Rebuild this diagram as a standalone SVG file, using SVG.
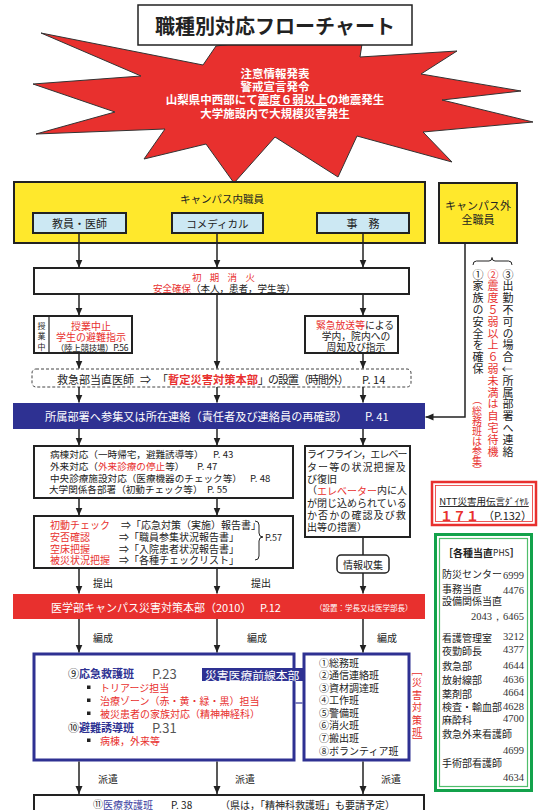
<svg xmlns="http://www.w3.org/2000/svg" width="539" height="810" viewBox="0 0 539 810">
<defs>
<marker id="ah" viewBox="0 0 8 8" refX="8" refY="4" markerWidth="8" markerHeight="8" markerUnits="userSpaceOnUse" orient="auto"><path d="M0,0.5 L8,4 L0,7.5 z" fill="#222"/></marker>
</defs>
<style>
text { font-family: "Noto Sans CJK JP", "Noto Sans", sans-serif; dominant-baseline: central; fill: #222; }
.c { text-anchor: middle; }
.r { fill: #E8302E; }
.w { fill: #fff; }
.b { font-weight: bold; }
.n { fill: #2E3192; }
.num { font-family: "Liberation Serif", "DejaVu Serif", serif; text-anchor: end; font-size: 10.5px; fill: #333; }
.ln { stroke: #222; stroke-width: 1.5; fill: none; }
.arr { marker-end: url(#ah); }
.box { fill: #fff; stroke: #222; stroke-width: 2; }
.yel { fill: #FFE82C; stroke: #222; stroke-width: 2; }
.sub { fill: #CCE8F3; stroke: #222; stroke-width: 2; }
.vt { writing-mode: vertical-rl; font-size: 11px; letter-spacing: 0.8px; }
.vc { text-anchor: middle; font-size: 10px; fill: #E8302E; }
.nb { fill: #fff; stroke: #2E3192; stroke-width: 3; }
.lst { font-size: 10px; }
.ph { font-size: 10px; }
</style>
<rect width="539" height="810" fill="#fff"/>

<g id="alert">
<polygon points="41,33 203,65 216,46 280,38 362,44 360,57 457,51 421,74 521,91 442,100 533,122 423,132 452,162 357,136 338,177 275,137 234,183 206,144 144,159 165,129 36,134 115,112 33,84 141,76" fill="#E8302E" stroke="#333" stroke-width="1"/>
<text x="275" y="73" class="c b w" font-size="11.5">注意情報発表</text>
<text x="275" y="86" class="c b w" font-size="11.5">警戒宣言発令</text>
<text x="275" y="99" class="c b w" font-size="11.5">山梨県中西部にて震度６弱以上の地震発生</text>
<line x1="258" y1="105.5" x2="327" y2="105.5" stroke="#fff" stroke-width="1"/>
<text x="275" y="113" class="c b w" font-size="11.5">大学施設内で大規模災害発生</text>
</g>

<g id="title">
<rect x="138" y="5" width="274" height="40" fill="#fff" stroke="#222" stroke-width="1.5"/>
<text x="275" y="25" class="c b" font-size="20">職種別対応フローチャート</text>
</g>

<g id="campus-in">
<rect x="14" y="182" width="411" height="61" class="yel"/>
<text x="222" y="198" class="c" font-size="10.5">キャンパス内職員</text>
</g>
<g id="faculty">
<rect x="33" y="213" width="93" height="20" class="sub"/>
<text x="79.5" y="223" class="c" font-size="11">教員・医師</text>
</g>
<g id="comedical">
<rect x="172" y="213" width="91" height="20" class="sub"/>
<text x="217.5" y="223" class="c" font-size="10.5">コメディカル</text>
</g>
<g id="office">
<rect x="317" y="213" width="92" height="20" class="sub"/>
<text x="363" y="223" class="c" font-size="11">事　務</text>
</g>

<g id="campus-out">
<rect x="439" y="183" width="78" height="60" class="yel"/>
<text x="478" y="205" class="c" font-size="11">キャンパス外</text>
<text x="478" y="219" class="c" font-size="11">全職員</text>
</g>

<g id="out-notes">
<path d="M473,265 Q473,261 476.5,261 L489,261 Q492,261 492,257.5 Q492,261 495,261 L508.5,261 Q512,261 512,265" fill="none" stroke="#222" stroke-width="1"/>
<text x="478" y="269" class="vt">①家族の安全を確保</text>
<text class="vc" transform="translate(477,400) rotate(90)">（</text>
<text class="vc" x="477" y="410.5">総</text>
<text class="vc" x="477" y="420.5">務</text>
<text class="vc" x="477" y="430.5">班</text>
<text class="vc" x="477" y="440.5">は</text>
<text class="vc" x="477" y="450.5">参</text>
<text class="vc" x="477" y="460.5">集</text>
<text class="vc" transform="translate(477,470) rotate(90)">）</text>
<text x="493" y="269" class="vt r">②震度５弱以上６弱未満は自宅待機</text>
<text x="508" y="269" class="vt">③出勤不可の場合↓所属部署へ連絡</text>
</g>

<g id="initial">
<rect x="34" y="268" width="375" height="26" class="box"/>
<text x="192" y="276.5" class="r" font-size="9.5" letter-spacing="-0.6">初　期　消　火</text>
<text x="153" y="287.5" font-size="9.5"><tspan class="r">安全確保</tspan>（本人，患者，学生等）</text>
</g>

<g id="class-stop">
<rect x="34" y="316" width="98" height="37" class="box"/>
<line x1="49" y1="316" x2="49" y2="353" stroke="#222" stroke-width="1.2"/>
<text x="41.5" y="325" class="c" font-size="8">授</text>
<text x="41.5" y="335.5" class="c" font-size="8">業</text>
<text x="41.5" y="346" class="c" font-size="8">中</text>
<text x="91" y="325" class="c r" font-size="10">授業中止</text>
<text x="91" y="336" class="c r" font-size="10">学生の避難指示</text>
<text x="92" y="346.5" class="c" font-size="8.5" letter-spacing="-0.3">（陸上競技場）P.56</text>
</g>

<g id="broadcast">
<rect x="305" y="316" width="93" height="37" class="box"/>
<text x="355" y="325" class="c" font-size="9.8"><tspan class="r">緊急放送等</tspan>による</text>
<text x="356" y="336" class="c" font-size="9.8">学内，院内への</text>
<text x="356" y="347" class="c" font-size="9.8">周知及び指示</text>
</g>

<g id="provisional">
<rect x="32" y="369" width="379" height="18" rx="4" fill="#fff" stroke="#444" stroke-width="1" stroke-dasharray="3,2"/>
<text y="378.5" font-size="11"><tspan x="57">救急部当直医師</tspan><tspan x="140">⇒</tspan><tspan x="157">「</tspan><tspan class="r b" font-size="11.25">暫定災害対策本部</tspan><tspan letter-spacing="-1">」の設置（時間外）</tspan><tspan x="362">P. 14</tspan></text>
</g>

<g id="report-bar">
<rect x="13" y="403" width="412" height="26" fill="#2E3192"/>
<text x="45" y="416" class="w" font-size="11.2">所属部署へ参集又は所在連絡（責任者及び連絡員の再確認）</text>
<text x="365" y="416" class="w" font-size="11.2">P. 41</text>
</g>

<g id="ward">
<rect x="34" y="446" width="259" height="52" class="box"/>
<text x="50" y="453.5" font-size="9.6">病棟対応（一時帰宅，避難誘導等）<tspan x="213">P. 43</tspan></text>
<text x="50" y="466" font-size="9.6">外来対応（<tspan class="r">外来診療の停止</tspan>等）<tspan x="197">P. 47</tspan></text>
<text x="50" y="477.5" font-size="9.6">中央診療施設対応（医療機器のチェック等）<tspan x="250">P. 48</tspan></text>
<text x="49" y="489" font-size="9.6">大学関係各部署（初動チェック等）<tspan x="207">P. 55</tspan></text>
</g>

<g id="lifeline">
<rect x="305" y="446" width="105" height="91" class="box"/>
<text x="307" y="453.5" font-size="10" letter-spacing="-0.9">ライフライン，エレベー</text>
<text x="307" y="466" font-size="10" letter-spacing="1.1">ター等の状況把握及</text>
<text x="307" y="478" font-size="10">び復旧</text>
<text x="307" y="489.5" font-size="10">（<tspan class="r">エレベーター</tspan>内に人</text>
<text x="307" y="502" font-size="10">が閉じ込められている</text>
<text x="307" y="514" font-size="10" letter-spacing="1.1">か否かの確認及び救</text>
<text x="307" y="526.5" font-size="10">出等の措置）</text>
</g>

<g id="initial-check">
<rect x="34" y="516" width="259" height="52" class="box"/>
<text x="50" y="524.5" font-size="10" class="r">初動チェック</text>
<text x="121" y="524.5" font-size="10">⇒「応急対策（実施）報告書」</text>
<text x="50" y="536.5" font-size="10" class="r">安否確認</text>
<text x="119" y="536.5" font-size="10">⇒「職員参集状況報告書」</text>
<text x="50" y="548" font-size="10" class="r">空床把握</text>
<text x="119" y="548" font-size="10">⇒「入院患者状況報告書」</text>
<text x="50" y="559.5" font-size="10" class="r">被災状況把握</text>
<text x="119" y="559.5" font-size="10">⇒「各種チェックリスト」</text>
<path d="M255,521 Q259,521 259,525 L259,533 Q259,537 263,537 Q259,537 259,541 L259,556 Q259,560 255,560" fill="none" stroke="#222" stroke-width="1"/>
<text x="265" y="537" font-size="9">P.57</text>
</g>

<g id="info">
<rect x="337" y="555" width="52" height="18" rx="4" fill="#fff" stroke="#222" stroke-width="1.5"/>
<text x="363" y="564" class="c" font-size="10">情報収集</text>
</g>

<g id="hq">
<rect x="13" y="594" width="412" height="25" fill="#E8302E"/>
<text x="51" y="607" class="w" font-size="11">医学部キャンパス災害対策本部（2010）</text>
<text x="260" y="607" class="w" font-size="11">P.12</text>
<text x="315" y="607" class="w" font-size="7.5">（設置：学長又は医学部長）</text>
</g>

<g id="medical-rescue">
<rect x="34" y="654" width="260" height="106" class="nb"/>
<text x="68" y="673" font-size="11">⑨<tspan class="n b">応急救護班</tspan><tspan x="152" fill="#555" font-size="13">P.23</tspan></text>
<rect x="87" y="685.5" width="3.5" height="3.5" fill="#222"/>
<text x="100" y="687" class="r" font-size="10">トリアージ担当</text>
<rect x="87" y="698.5" width="3.5" height="3.5" fill="#222"/>
<text x="100" y="700" class="r" font-size="10">治療ゾーン（赤・黄・緑・黒）担当</text>
<rect x="87" y="711.5" width="3.5" height="3.5" fill="#222"/>
<text x="100" y="713" class="r" font-size="10">被災患者の家族対応（精神神経科）</text>
<text x="68" y="727" font-size="11">⑩<tspan class="n b">避難誘導班</tspan><tspan x="152" fill="#555" font-size="13">P.31</tspan></text>
<rect x="87" y="738.5" width="3.5" height="3.5" fill="#222"/>
<text x="100" y="740" class="r" font-size="10">病棟，外来等</text>
</g>

<g id="front-hq">
<rect x="202" y="668" width="103" height="13" fill="#2E3192"/>
<text x="205" y="674.5" class="w" font-size="11.8">災害医療前線本部</text>
</g>

<g id="disaster-teams">
<rect x="304" y="654" width="105" height="106" class="nb"/>
<text x="319" y="662" class="lst">①総務班</text>
<text x="319" y="674.5" class="lst">②通信連絡班</text>
<text x="319" y="687" class="lst">③資材調達班</text>
<text x="319" y="699.5" class="lst">④工作班</text>
<text x="319" y="712" class="lst">⑤警備班</text>
<text x="319" y="724.5" class="lst">⑥消火班</text>
<text x="319" y="737" class="lst">⑦搬出班</text>
<text x="319" y="750" class="lst">⑧ボランティア班</text>
<text class="vc" font-size="10.5" transform="translate(417,671) rotate(90)">［</text>
<text class="vc" font-size="10.5" x="417" y="681.5">災</text>
<text class="vc" font-size="10.5" x="417" y="694">害</text>
<text class="vc" font-size="10.5" x="417" y="706.5">対</text>
<text class="vc" font-size="10.5" x="417" y="719">策</text>
<text class="vc" font-size="10.5" x="417" y="731.5">班</text>
<text class="vc" font-size="10.5" transform="translate(417,741) rotate(90)">］</text>
</g>

<g id="medical-team">
<rect x="34" y="795" width="390" height="22" class="box"/>
<text x="93" y="803.5" font-size="10">⑪<tspan fill="#3B40A0">医療救護班</tspan><tspan x="171">P. 38</tspan><tspan x="220">（県は，「精神科救護班」も要請予定）</tspan></text>
</g>

<g id="ntt">
<rect x="432" y="482" width="104" height="43" fill="#fff" stroke="#E8302E" stroke-width="2.5"/>
<rect x="435.5" y="485.5" width="97" height="36" fill="none" stroke="#E8302E" stroke-width="0.8"/>
<text x="484" y="501" class="c" font-size="9.5" fill="#1F3C9C" text-decoration="underline">NTT災害用伝言ﾀﾞｲﾔﾙ</text>
<text x="440" y="515" class="r b" font-size="13">１７１</text>
<text x="483" y="515" font-size="11">（P.132）</text>
</g>

<g id="phs">
<rect x="435.5" y="534.5" width="96" height="256" fill="#fff" stroke="#13A24B" stroke-width="3"/>
<rect x="439.5" y="538.5" width="88" height="248" fill="none" stroke="#4FBE6C" stroke-width="1.2"/>
<text x="443" y="552" font-size="10" fill="#11A04A" class="b">［各種当直<tspan font-weight="normal" font-size="8.5">PHS</tspan>］</text>
<text x="442" y="573" class="ph">防災センター</text><text x="524" y="575" class="num">6999</text>
<text x="442" y="588" class="ph">事務当直</text><text x="524" y="590" class="num">4476</text>
<text x="442" y="600" class="ph">設備関係当直</text>
<text x="524" y="616" class="num">2043，6465</text>
<text x="442" y="637" class="ph">看護管理室</text><text x="524" y="636" class="num">3212</text>
<text x="442" y="650" class="ph">夜勤師長</text><text x="524" y="649" class="num">4377</text>
<text x="442" y="665" class="ph">救急部</text><text x="524" y="665" class="num">4644</text>
<text x="442" y="679" class="ph">放射線部</text><text x="524" y="679" class="num">4636</text>
<text x="442" y="693" class="ph">薬剤部</text><text x="524" y="692" class="num">4664</text>
<text x="442" y="706" class="ph">検査・輸血部</text><text x="524" y="706" class="num">4628</text>
<text x="442" y="719" class="ph">麻酔科</text><text x="524" y="718" class="num">4700</text>
<text x="442" y="733" class="ph">救急外来看護師</text>
<text x="524" y="750" class="num">4699</text>
<text x="442" y="762" class="ph">手術部看護師</text>
<text x="524" y="777" class="num">4634</text>
</g>

<g id="connectors">
<path class="ln arr" d="M79,233 V267.5"/>
<path class="ln arr" d="M217,233 V267.5"/>
<path class="ln arr" d="M363,233 V267.5"/>
<path class="ln arr" d="M79,294 V315.5"/>
<path class="ln arr" d="M217,294 V368.5"/>
<path class="ln arr" d="M363,294 V315.5"/>
<path class="ln arr" d="M79,353 V368.5"/>
<path class="ln arr" d="M363,353 V368.5"/>
<path class="ln arr" d="M79,387 V402.5"/>
<path class="ln arr" d="M217,387 V402.5"/>
<path class="ln arr" d="M363,387 V402.5"/>
<path class="ln arr" d="M465,243 V417 H425.5"/>
<path class="ln arr" d="M79,429 V445.5"/>
<path class="ln arr" d="M217,429 V445.5"/>
<path class="ln arr" d="M363,429 V445.5"/>
<path class="ln arr" d="M79,498 V515.5"/>
<path class="ln arr" d="M217,498 V515.5"/>
<path class="ln arr" d="M79,568 V593.5"/>
<path class="ln arr" d="M217,568 V593.5"/>
<path class="ln" d="M363,537 V555"/>
<path class="ln arr" d="M363,573 V593.5"/>
<path class="ln arr" d="M79,619 V652.5"/>
<path class="ln arr" d="M217,619 V652.5"/>
<path class="ln arr" d="M363,619 V652.5"/>
<path class="ln arr" d="M79,761.5 V794"/>
<path class="ln arr" d="M217,761.5 V794"/>
<path class="ln arr" d="M363,761.5 V794"/>
<path d="M295.5,703 H302.5" stroke="#2E3192" stroke-width="1.2" fill="none"/>
<text x="93" y="582" font-size="10">提出</text>
<text x="251" y="582" font-size="10">提出</text>
<text x="93" y="637" font-size="10">編成</text>
<text x="247" y="637" font-size="10">編成</text>
<text x="377" y="637" font-size="10">編成</text>
<text x="98" y="778" font-size="10">派遣</text>
<text x="235" y="778" font-size="10">派遣</text>
<text x="381" y="778" font-size="10">派遣</text>
</g>
</svg>
